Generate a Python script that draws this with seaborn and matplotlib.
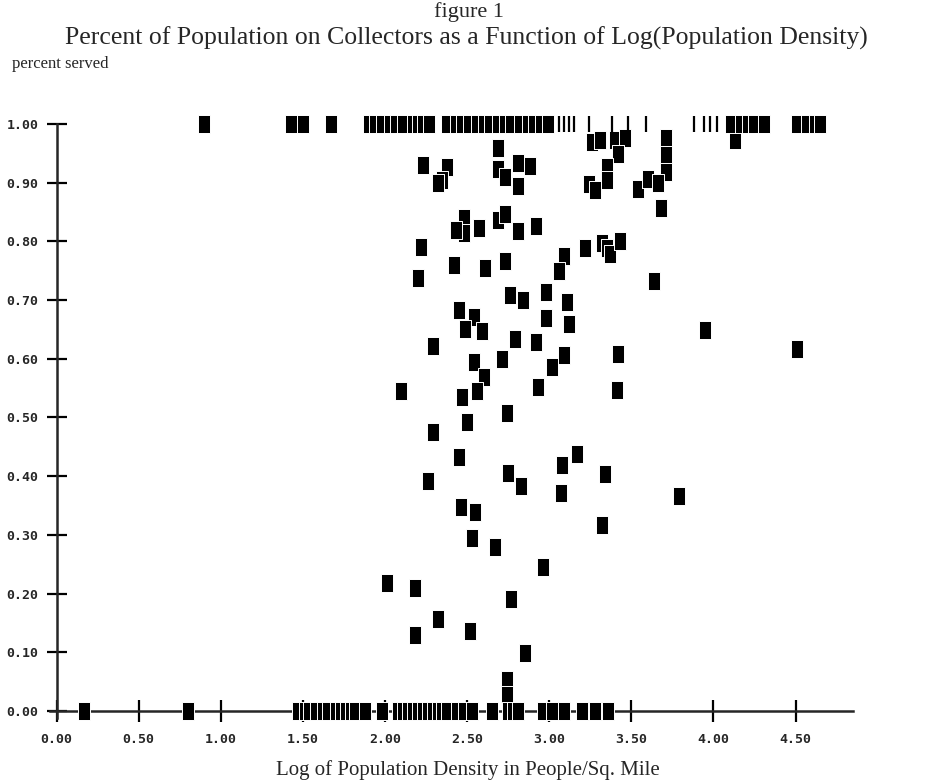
import matplotlib
matplotlib.use("Agg")
import numpy as np
import pandas as pd
import matplotlib.pyplot as plt
from matplotlib import font_manager
from matplotlib.markers import MarkerStyle
import seaborn as sns

# points (log density, share served)
mid_x = [2.23, 2.38, 2.35, 2.32, 2.69, 2.69, 2.73, 2.81, 2.88, 2.81,
         2.48, 2.48, 2.43, 2.57, 2.69, 2.73, 2.81, 2.92, 2.22, 2.42,
         2.61, 2.73, 2.20, 2.76, 2.84, 2.98, 2.45, 2.54, 2.98, 2.49,
         2.59, 2.29, 2.79, 2.92, 2.54, 2.71, 2.60, 2.93, 2.10, 2.47,
         2.56, 2.74, 2.29, 2.50, 2.45, 2.75, 2.83, 2.26, 2.46, 2.55,
         2.53, 2.67, 2.96, 2.01, 2.18, 2.77, 2.32, 2.18, 2.52, 2.85,
         2.74, 2.74, 3.12, 3.11, 3.09, 3.02, 3.42, 3.41, 3.95, 3.17,
         3.08, 3.34, 3.07, 3.79, 3.32, 3.26, 3.31, 3.40, 3.46, 3.71,
         4.13, 3.42, 3.71, 3.35, 3.71, 3.24, 3.28, 3.35, 3.54, 3.60,
         3.66, 3.68, 3.09, 3.06, 3.22, 3.32, 3.35, 3.37, 3.43, 3.64,
         4.51]
mid_y = [0.931, 0.926, 0.904, 0.900, 0.959, 0.923, 0.909, 0.933, 0.929, 0.895,
         0.840, 0.814, 0.820, 0.823, 0.836, 0.846, 0.817, 0.827, 0.791, 0.760,
         0.755, 0.766, 0.737, 0.708, 0.701, 0.714, 0.683, 0.671, 0.670, 0.651,
         0.647, 0.621, 0.633, 0.629, 0.595, 0.599, 0.569, 0.552, 0.545, 0.535,
         0.545, 0.507, 0.476, 0.493, 0.433, 0.406, 0.384, 0.391, 0.348, 0.339,
         0.295, 0.279, 0.246, 0.218, 0.209, 0.190, 0.156, 0.129, 0.136, 0.098,
         0.052, 0.028, 0.659, 0.697, 0.606, 0.586, 0.609, 0.547, 0.649, 0.437,
         0.419, 0.403, 0.371, 0.367, 0.316, 0.970, 0.972, 0.973, 0.977, 0.977,
         0.973, 0.949, 0.947, 0.926, 0.919, 0.897, 0.888, 0.904, 0.889, 0.906,
         0.899, 0.857, 0.775, 0.750, 0.788, 0.798, 0.789, 0.778, 0.801, 0.732,
         0.617]

# fully served (1.00) and not served (0.00) rows
top_x = [0.90, 1.43, 1.50, 1.67, 1.90, 1.94, 1.98, 2.03, 2.07, 2.11,
         2.17, 2.20, 2.23, 2.27, 2.38, 2.43, 2.47, 2.51, 2.56, 2.60,
         2.64, 2.69, 2.73, 2.77, 2.82, 2.87, 2.91, 2.95, 2.99, 4.11,
         4.17, 4.21, 4.25, 4.31, 4.51, 4.57, 4.62, 4.65]
top_tick_x = [3.06, 3.09, 3.12, 3.15, 3.24, 3.38, 3.48, 3.59, 3.88, 3.94,
              3.98, 4.02]
bottom_x = [0.17, 0.80, 1.47, 1.51, 1.54, 1.58, 1.62, 1.65, 1.70, 1.73,
            1.76, 1.79, 1.82, 1.88, 1.98, 2.08, 2.11, 2.14, 2.17, 2.20,
            2.23, 2.26, 2.29, 2.32, 2.35, 2.38, 2.44, 2.48, 2.53, 2.65,
            2.75, 2.78, 2.81, 2.96, 3.02, 3.09, 3.20, 3.28, 3.36]

x_ticks = [0.0, 0.5, 1.0, 1.5, 2.0, 2.5, 3.0, 3.5, 4.0, 4.5]
y_ticks = [0.0, 0.1, 0.2, 0.3, 0.4, 0.5, 0.6, 0.7, 0.8, 0.9, 1.0]

sns.set_style("white")
plt.rcParams['font.family'] = ['Liberation Serif', 'DejaVu Serif']

names = {f.name for f in font_manager.fontManager.ttflist}
tick_font = 'Liberation Sans Narrow' if 'Liberation Sans Narrow' in names else 'DejaVu Sans Mono'

df = pd.DataFrame({
    'x': mid_x + top_x + bottom_x,
    'y': mid_y + [1.0] * len(top_x) + [0.0] * len(bottom_x),
})

fig = plt.figure(figsize=(9.31, 7.81), dpi=100)
ax = fig.add_axes([50 / 931, 63 / 781, 803 / 931, 594 / 781])

# tall plotter square
box = MarkerStyle([(-0.34, -0.5), (0.34, -0.5), (0.34, 0.5), (-0.34, 0.5), (-0.34, -0.5)])
sns.scatterplot(data=df, x='x', y='y', marker=box, s=150, color='black',
                edgecolor='white', linewidth=0.7, clip_on=False, ax=ax, zorder=3)
sns.scatterplot(x=top_tick_x, y=[1.0] * len(top_tick_x), marker='|', s=140,
                color='black', linewidth=1.6, clip_on=False, ax=ax, zorder=3)

ax.set_xlim(-0.04, 4.85)
ax.set_ylim(-0.012, 1.0)
ax.spines['top'].set_visible(False)
ax.spines['right'].set_visible(False)
ax.spines['left'].set_position(('data', 0))
ax.spines['bottom'].set_position(('data', 0))
for s in ['left', 'bottom']:
    ax.spines[s].set_linewidth(1.8)
    ax.spines[s].set_zorder(2)

ax.set_xticks(x_ticks)
ax.set_yticks(y_ticks)
ax.set_xticklabels([f'{v:.2f}' for v in x_ticks])
ax.set_yticklabels([f'{v:.2f}' for v in y_ticks])
ax.tick_params(axis='x', bottom=True, direction='inout', length=16, width=1.6, pad=8, color='black')
ax.tick_params(axis='y', left=True, direction='inout', length=14, width=1.6, pad=6, color='black')
for lab in ax.get_xticklabels() + ax.get_yticklabels():
    lab.set_family(tick_font)
    lab.set_fontweight('bold')
    lab.set_fontsize(9.5)
ax.set_xlabel('')
ax.set_ylabel('')
ax.grid(False)

fig.text(469 / 931, 1 - 17 / 781, 'figure 1', ha='center', va='baseline', fontsize=16)
fig.text(466 / 931, 1 - 45 / 781,
         'Percent of Population on Collectors as a Function of Log(Population Density)',
         ha='center', va='baseline', fontsize=18.5)
fig.text(12 / 931, 1 - 64 / 781, 'percent served', ha='left', va='center', fontsize=12)
fig.text(468 / 931, 1 - 770 / 781, 'Log of Population Density in People/Sq. Mile',
         ha='center', va='center', fontsize=15)

fig.savefig('out.png', dpi=100)
